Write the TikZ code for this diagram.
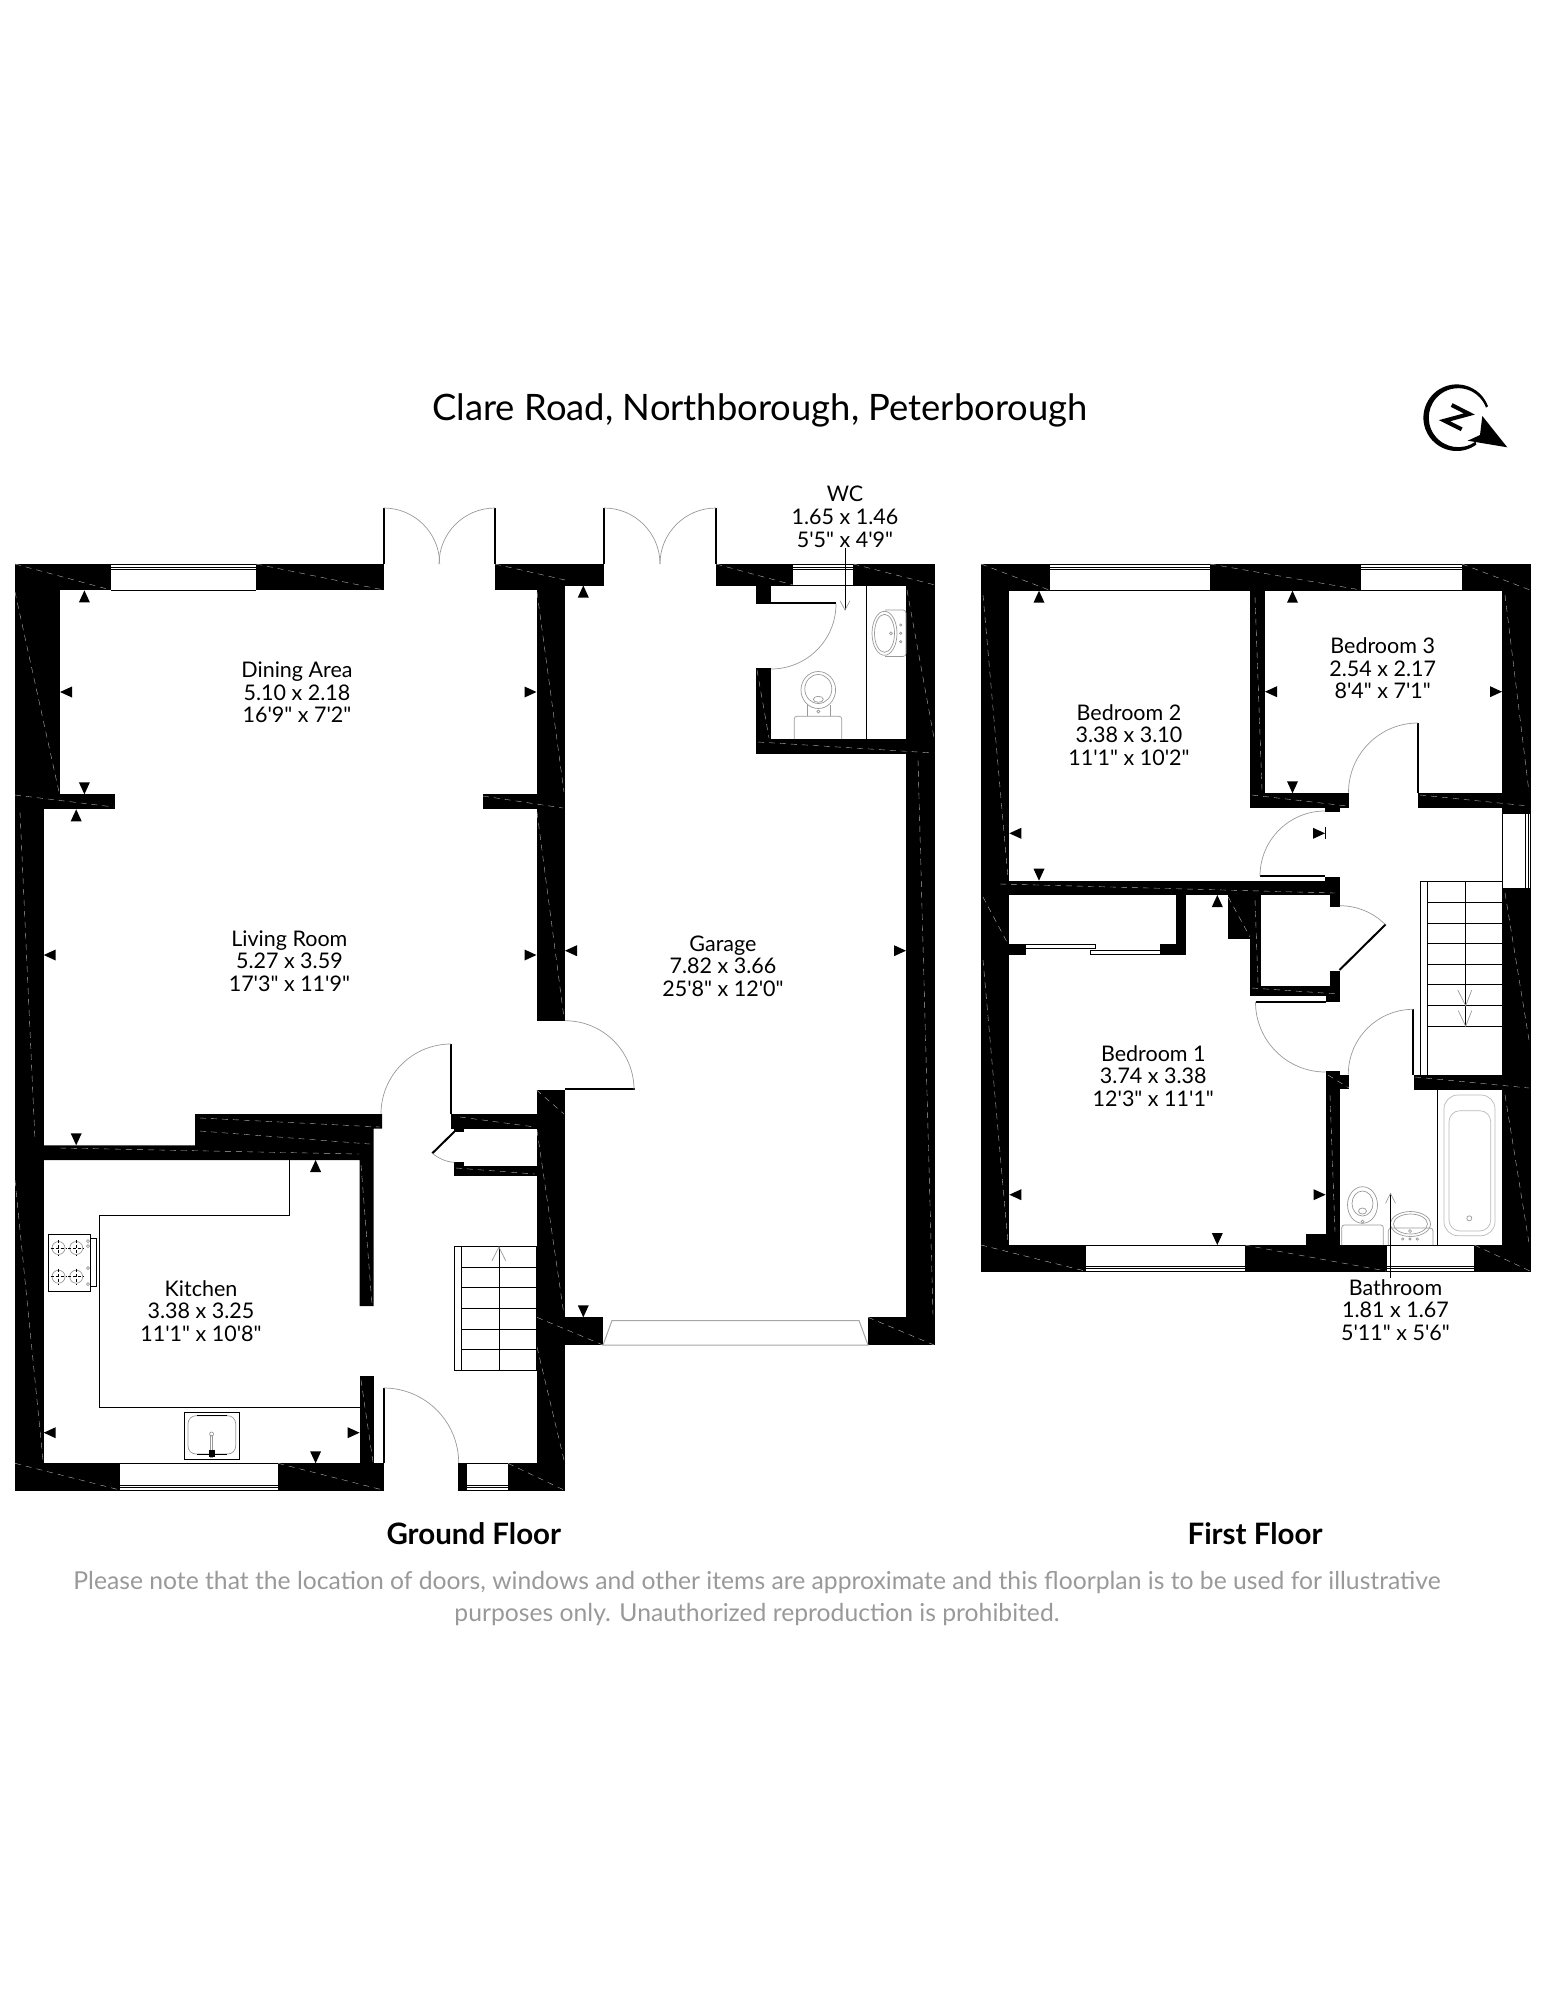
\documentclass[tikz,border=0pt]{standalone}
\usepackage{fontspec}
\newfontfamily\planfont{Lato}
\begin{document}
\begin{tikzpicture}[x=1pt,y=-1pt]
  \tikzstyle{wall} = [fill=black]
  \tikzstyle{trace} = [gray!60, line width=0.4, dash pattern=on 6 off 5]
  \tikzstyle{pane} = [black, line width=0.8]
  \tikzstyle{thinline} = [black, line width=0.9]
  \tikzstyle{leaf} = [black, line width=2]
  \tikzstyle{swing} = [gray!80, line width=0.7]
  \tikzstyle{fitting} = [gray!80, line width=0.7]
  \tikzstyle{room} = [font=\planfont\fontsize{21.5}{22.6}\selectfont, align=center, inner sep=1]
  \tikzstyle{floorname} = [font=\planfont\bfseries\fontsize{29.5}{32}\selectfont, inner sep=0]
  \tikzstyle{tipup} = [insert path={-- ++(5.5,12) -- ++(-11,0) -- cycle}]
  \tikzstyle{tipdown} = [insert path={-- ++(5.5,-12) -- ++(-11,0) -- cycle}]
  \tikzstyle{tipleft} = [insert path={-- ++(12,5.5) -- ++(0,-11) -- cycle}]
  \tikzstyle{tipright} = [insert path={-- ++(-12,5.5) -- ++(0,-11) -- cycle}]

  \useasboundingbox (0,0) rectangle (1545,2000);

  \node (title) [font=\planfont\fontsize{36.4}{40}\selectfont, inner sep=0] at (760,410) {Clare Road, Northborough, Peterborough};

  \fill (1456.7,417.7) ++(-20:33.3) arc[start angle=-20, end angle=-306, radius=33.3] -- ++(-0.7,-3.1) arc[start angle=-306, end angle=-20, radius=29.5] -- cycle;
  \fill (1482.3,416) -- (1507.3,447.3) -- (1467.7,440.7) -- (1480,435) -- cycle;
  \draw [line width=4] (1451.7,405) -- (1469.3,414) -- (1444.5,420.7) -- (1461.7,429.3);

  \fill [wall] (15,564) rectangle (111,590.4);
  \fill [wall] (256,564) rectangle (383.7,590.4);
  \fill [wall] (495,564) rectangle (604,585.5);
  \fill [wall] (495,585) rectangle (565,590.4);
  \fill [wall] (716,564) rectangle (793.3,585.5);
  \fill [wall] (853.3,564) rectangle (935,585.5);
  \fill [wall] (906,585) rectangle (935,1345);
  \fill [wall] (868,1317.3) rectangle (935,1345.3);
  \fill [wall] (15,564) rectangle (59.6,794.3);
  \fill [wall] (15,794.3) rectangle (114.7,809.3);
  \fill [wall] (15,809) rectangle (43.7,1490.7);
  \fill [wall] (483,794.3) rectangle (536.5,809.3);
  \fill [wall] (536.5,590) rectangle (565,1020.7);
  \fill [wall] (536.5,1090) rectangle (565,1490.7);
  \fill [wall] (536.5,1317.3) rectangle (603,1345.3);
  \fill [wall] (43.7,1145.3) -- (195,1145.3) -- (195,1114) -- (382,1114) -- (382,1128.7) -- (373.7,1128.7) -- (373.7,1306) -- (359.6,1306) -- (359.6,1160) -- (43.7,1160) -- cycle;
  \fill [wall] (359.6,1376) rectangle (373.7,1463.3);
  \fill [wall] (15,1463.3) rectangle (120,1490.7);
  \fill [wall] (278,1463.3) rectangle (383.7,1490.7);
  \fill [wall] (458,1463.3) rectangle (467,1490.7);
  \fill [wall] (508,1463.3) rectangle (565,1490.7);
  \fill [wall] (451,1114) rectangle (536.5,1128.7);
  \fill [wall] (454,1128) rectangle (464,1131.7);
  \fill [wall] (454,1165.7) rectangle (536.5,1175.7);
  \fill [wall] (454,1162.3) rectangle (464,1166);
  \fill [wall] (756,585) rectangle (770.7,604);
  \fill [wall] (756,668.3) rectangle (770.7,754);
  \fill [wall] (756,739) rectangle (935,754);

  \fill [wall] (981,564) rectangle (1049.6,590.7);
  \fill [wall] (1210,564) rectangle (1361,590.7);
  \fill [wall] (1462,564) rectangle (1530.7,590.7);
  \fill [wall] (981,590) rectangle (1009.3,1245);
  \fill [wall] (1250.4,590) rectangle (1265,793.3);
  \fill [wall] (1250.4,793.3) rectangle (1349,808.3);
  \fill [wall] (1325,808) rectangle (1339.7,811.7);
  \fill [wall] (1418.4,793.3) rectangle (1530.7,808.3);
  \fill [wall] (1502.3,590) rectangle (1530.7,813.3);
  \fill [wall] (1502.3,888.3) rectangle (1530.7,1245);
  \fill [wall] (981,880.7) rectangle (1339.8,895);
  \fill [wall] (1325,876.7) rectangle (1339.8,881);
  \fill [wall] (1175.8,895) rectangle (1185.6,954.5);
  \fill [wall] (1009.3,944.3) rectangle (1025.6,955);
  \fill [wall] (1160,944.3) rectangle (1185.6,954.7);
  \fill [wall] (1228.2,895) rectangle (1250.4,938.7);
  \fill [wall] (1250.4,895) rectangle (1261,995);
  \fill [wall] (1250.4,986) rectangle (1339.8,995.7);
  \fill [wall] (1325.6,995) rectangle (1339.8,1002);
  \fill [wall] (1330,895) rectangle (1339.8,906.7);
  \fill [wall] (1330,971) rectangle (1339.8,986);
  \fill [wall] (1325.6,1071.3) rectangle (1339.8,1245);
  \fill [wall] (1325.6,1075) rectangle (1349,1089.3);
  \fill [wall] (1413.6,1075) rectangle (1530.7,1090);
  \fill [wall] (1305.6,1234) rectangle (1339.8,1245);
  \fill [wall] (981,1245) rectangle (1085.6,1271.7);
  \fill [wall] (1244.5,1245) rectangle (1386.7,1271.7);
  \fill [wall] (1474.4,1245) rectangle (1530.7,1271.7);

  \draw [trace] (15,564) -- (111,590);
  \draw [trace] (256,564) -- (383.7,590);
  \draw [trace] (495,564) -- (565,580);
  \draw [trace] (716,564) -- (793.3,585);
  \draw [trace] (853.3,564) -- (935,585);
  \draw [trace] (15,592) -- (59,792);
  \draw [trace] (15,795) -- (114,807);
  \draw [trace] (20,812) -- (35,1140);
  \draw [trace] (15,1180) -- (43,1460);
  \draw [trace] (537,592) -- (564,792);
  \draw [trace] (483,796) -- (563,808);
  \draw [trace] (537,812) -- (564,1018);
  \draw [trace] (536.5,1090) -- (564,1114);
  \draw [trace] (537,1130) -- (564,1315);
  \draw [trace] (537,1317.3) -- (603,1345);
  \draw [trace] (537,1347) -- (564,1460);
  \draw [trace] (868,1317.3) -- (934,1345);
  \draw [trace] (918,760) -- (933,1315);
  \draw [trace] (60,1148) -- (359,1154);
  \draw [trace] (200,1118) -- (380,1127);
  \draw [trace] (200,1131) -- (370,1144);
  \draw [trace] (361,1165) -- (372,1304);
  \draw [trace] (361,1380) -- (373,1462);
  \draw [trace] (15,1463.3) -- (120,1490);
  \draw [trace] (278,1463.3) -- (383,1490);
  \draw [trace] (508,1463.3) -- (564,1490);
  \draw [trace] (460,1117) -- (535,1127);
  \draw [trace] (456,1168) -- (535,1174);
  \draw [trace] (758,742) -- (934,753);
  \draw [trace] (757,670) -- (769,738);
  \draw [trace] (907,590) -- (934,738);
  \draw [trace] (981,564) -- (1049,590);
  \draw [trace] (1210,564) -- (1361,590);
  \draw [trace] (1462,564) -- (1530,590);
  \draw [trace] (983,595) -- (1008,878);
  \draw [trace] (983,897) -- (1008,944);
  \draw [trace] (983,960) -- (1008,1243);
  \draw [trace] (1505,595) -- (1529,792);
  \draw [trace] (1505,893) -- (1529,1040);
  \draw [trace] (1505,1095) -- (1529,1243);
  \draw [trace] (1255,597) -- (1262,790);
  \draw [trace] (1252,795) -- (1347,806);
  \draw [trace] (1420,795) -- (1529,806);
  \draw [trace] (1000,884) -- (1335,893);
  \draw [trace] (1228.2,897) -- (1250,937);
  \draw [trace] (1255,900) -- (1258,984);
  \draw [trace] (1252,988) -- (1338,994);
  \draw [trace] (1328,1075) -- (1349,1088);
  \draw [trace] (1330,1095) -- (1335,1232);
  \draw [trace] (1415,1077) -- (1529,1088);
  \draw [trace] (981,1245) -- (1085,1271);
  \draw [trace] (1244.5,1245) -- (1386,1271);
  \draw [trace] (1474.4,1245) -- (1530,1271);

  \draw [pane] (111,590) -- (256,590);
  \draw [pane] (111,564.5) -- (256,564.5);
  \draw [pane] (111,567) -- (256,567);
  \draw [pane] (111,569.5) -- (256,569.5);
  \draw [pane] (793.3,585) -- (853.3,585);
  \draw [pane] (793.3,564.5) -- (853.3,564.5);
  \draw [pane] (793.3,567) -- (853.3,567);
  \draw [pane] (793.3,569.5) -- (853.3,569.5);
  \draw [pane] (120,1463.3) -- (278,1463.3);
  \draw [pane] (120,1485) -- (278,1485);
  \draw [pane] (120,1487.5) -- (278,1487.5);
  \draw [pane] (120,1490.3) -- (278,1490.3);
  \draw [pane] (467,1463.3) -- (508,1463.3);
  \draw [pane] (467,1485) -- (508,1485);
  \draw [pane] (467,1487.5) -- (508,1487.5);
  \draw [pane] (467,1490.3) -- (508,1490.3);
  \draw [pane] (1049.6,590.3) -- (1210,590.3);
  \draw [pane] (1049.6,564.5) -- (1210,564.5);
  \draw [pane] (1049.6,567) -- (1210,567);
  \draw [pane] (1049.6,569.5) -- (1210,569.5);
  \draw [pane] (1361,590.3) -- (1462,590.3);
  \draw [pane] (1361,564.5) -- (1462,564.5);
  \draw [pane] (1361,567) -- (1462,567);
  \draw [pane] (1361,569.5) -- (1462,569.5);
  \draw [pane] (1085.6,1245) -- (1244.5,1245);
  \draw [pane] (1085.6,1266.5) -- (1244.5,1266.5);
  \draw [pane] (1085.6,1268.7) -- (1244.5,1268.7);
  \draw [pane] (1085.6,1271.2) -- (1244.5,1271.2);
  \draw [pane] (1386.7,1245) -- (1474.4,1245);
  \draw [pane] (1386.7,1266.5) -- (1474.4,1266.5);
  \draw [pane] (1386.7,1268.7) -- (1474.4,1268.7);
  \draw [pane] (1386.7,1271.2) -- (1474.4,1271.2);
  \draw [pane] (1502.3,813.3) rectangle (1530.4,888.3);
  \draw [pane] (1525.7,813.3) -- (1525.7,888.3);
  \draw [pane] (1527.9,813.3) -- (1527.9,888.3);
  \draw [pane] (1025.6,944.3) rectangle (1095.5,948.3);
  \draw [pane] (1090.4,950.3) rectangle (1160,954.3);
  \draw [gray!70, line width=1] (603,1345) -- (612,1320.5) -- (859,1320.5) -- (868,1345) -- cycle;

  \draw [leaf] (383.7,564) -- (383.7,508);
  \draw [leaf] (495,564) -- (495,508);
  \draw [leaf] (604,564) -- (604,508);
  \draw [leaf] (716,564) -- (716,508);
  \draw [leaf] (451,1114) -- (451,1044);
  \draw [leaf] (383.7,1463) -- (383.7,1388);
  \draw [leaf] (565,1089) -- (634.7,1089);
  \draw [leaf] (454.3,1131.7) -- (432.3,1153.3);
  \draw [leaf] (770.7,603.3) -- (836,603.3);
  \draw [leaf] (1418,793) -- (1418,723);
  \draw [leaf] (1260,876.3) -- (1325,876.3);
  \draw [leaf] (1339.5,970) -- (1385.7,924.3);
  \draw [leaf] (1255.5,1001.7) -- (1325.6,1001.7);
  \draw [leaf] (1413.3,1075) -- (1413.3,1009.3);

  \draw [swing] (383.7,508) arc[start angle=-90, end angle=0, radius=56];
  \draw [swing] (495,508) arc[start angle=-90, end angle=-180, radius=56];
  \draw [swing] (604,508) arc[start angle=-90, end angle=0, radius=56];
  \draw [swing] (716,508) arc[start angle=-90, end angle=-180, radius=56];
  \draw [swing] (451,1044) arc[start angle=-90, end angle=-180, radius=70];
  \draw [swing] (383.7,1388) arc[start angle=-90, end angle=0, radius=75];
  \draw [swing] (565,1020.7) arc[start angle=-90, end angle=0, radius=69];
  \draw [swing] (432.3,1153.3) .. controls (438,1158) and (446,1162) .. (454.3,1162.3);
  \draw [swing] (836,604) arc[start angle=0, end angle=90, radius=65];
  \draw [swing] (1418,723) arc[start angle=-90, end angle=-180, radius=69.5];
  \draw [swing] (1325,811) arc[start angle=-90, end angle=-180, radius=65];
  \draw [swing] (1339.8,905.7) arc[start angle=-90, end angle=-45, radius=64.5];
  \draw [swing] (1255.5,1002) arc[start angle=180, end angle=90, radius=70];
  \draw [swing] (1413.3,1009.3) arc[start angle=-90, end angle=-180, radius=65];

  \fill (84.4,590.4) [tipup];
  \fill (60,692) [tipleft];
  \fill (536.5,692) [tipright];
  \fill (84.4,794.3) [tipdown];
  \fill (76.2,809.3) [tipup];
  \fill (43.7,955) [tipleft];
  \fill (536.5,955) [tipright];
  \fill (565,950.7) [tipleft];
  \fill (906,950.7) [tipright];
  \fill (583.3,585.5) [tipup];
  \fill (583.3,1317.3) [tipdown];
  \fill (76.2,1145.3) [tipdown];
  \fill (315.6,1160) [tipup];
  \fill (43.7,1432.7) [tipleft];
  \fill (359.6,1432.7) [tipright];
  \fill (315.6,1463.3) [tipdown];
  \fill (1039,590.7) [tipup];
  \fill (1009.3,833.3) [tipleft];
  \fill (1039,880.7) [tipdown];
  \fill (1292.5,590.7) [tipup];
  \fill (1265,691.7) [tipleft];
  \fill (1502,691.7) [tipright];
  \fill (1292.5,793.3) [tipdown];
  \fill (1325,833.3) [tipright];
  \draw [thinline] (1325.5,827) -- (1325.5,839);
  \fill (1217.3,895) [tipup];
  \fill (1009.3,1194.7) [tipleft];
  \fill (1325.6,1194.7) [tipright];
  \fill (1217.3,1245) [tipdown];

  \draw [thinline] (289.3,1160) -- (289.3,1215.3) -- (99.5,1215.3) -- (99.5,1407.3) -- (359.6,1407.3);

  \draw [thinline] (48.5,1234) rectangle (90.6,1291.7);
  \draw [thinline] (90.6,1238.3) rectangle (96,1286.7);
  \draw [fitting] (88,1241) circle (1.5);
  \draw [fitting] (88,1246) circle (1.5);
  \draw [fitting] (88,1268) circle (1.5);
  \draw [fitting] (88,1284) circle (1.5);
  \draw [fitting] (58.5,1248) circle (6.5);
  \draw [fitting] (76.2,1248) circle (6.5);
  \draw [fitting] (58.5,1276.7) circle (6.5);
  \draw [fitting] (76.2,1276.7) circle (6.5);
  \draw [thinline, densely dashed] (50.5,1248) -- (66.5,1248);
  \draw [thinline, densely dashed] (58.5,1240) -- (58.5,1256);
  \draw [thinline, densely dashed] (68.2,1248) -- (84.2,1248);
  \draw [thinline, densely dashed] (76.2,1240) -- (76.2,1256);
  \draw [thinline, densely dashed] (50.5,1276.7) -- (66.5,1276.7);
  \draw [thinline, densely dashed] (58.5,1268.7) -- (58.5,1284.7);
  \draw [thinline, densely dashed] (68.2,1276.7) -- (84.2,1276.7);
  \draw [thinline, densely dashed] (76.2,1268.7) -- (76.2,1284.7);

  \draw [thinline] (184.2,1412.3) rectangle (239.7,1459.3);
  \draw [fitting, rounded corners=8] (188,1415.7) rectangle (235.7,1454);
  \draw [thinline] (197,1415.7) -- (227,1415.7);
  \draw [thinline] (197,1454) -- (227,1454);
  \draw [fitting] (210.5,1435) rectangle (212.7,1457);
  \draw [fitting] (211.6,1434) circle (2);
  \fill (208.5,1450) rectangle (214.5,1457);

  \draw [thinline] (454.3,1246.3) rectangle (536.5,1370.3);
  \draw [thinline] (461.7,1246.3) -- (461.7,1370.3);
  \draw [thinline] (499.5,1246.3) -- (499.5,1370.3);
  \draw [thinline] (461.7,1267.3) -- (536.5,1267.3);
  \draw [thinline] (461.7,1287.3) -- (536.5,1287.3);
  \draw [thinline] (461.7,1308.3) -- (536.5,1308.3);
  \draw [thinline] (461.7,1329.3) -- (536.5,1329.3);
  \draw [thinline] (461.7,1349.3) -- (536.5,1349.3);
  \draw [fitting] (492,1260.7) -- (499,1247) -- (505.7,1260.7);

  \draw [thinline] (866.7,585) -- (866.7,739);
  \draw [fitting] (884.5,633.3) ellipse (12.5 and 22);
  \draw [fitting] (884.5,633.3) ellipse (10 and 19);
  \draw [fitting, rounded corners=3] (885,610) -- (906,610) -- (906,656.5) -- (885,656.5);
  \draw [fitting] (891,633.3) circle (1.5);
  \draw [fitting] (900.7,625) circle (1.2);
  \draw [fitting] (900.7,633.3) circle (1.2);
  \draw [fitting] (900.7,641.7) circle (1.2);
  \draw [fitting] (818.3,690) ellipse (17.3 and 18.5);
  \draw [fitting] (818.3,689) ellipse (13.5 and 14.5);
  \draw [fitting] (818.3,699.3) ellipse (5 and 3);
  \draw [fitting] (818.3,711.5) circle (1.5);
  \draw [fitting] (807,705) -- (807,716);
  \draw [fitting] (830,705) -- (830,716);
  \draw [fitting, rounded corners=2.5] (794.3,739) -- (794.3,716.3) -- (841.7,716.3) -- (841.7,739);

  \draw [thinline] (1420.3,881.3) -- (1420.3,1075);
  \draw [thinline] (1427.3,881.3) -- (1427.3,1075);
  \draw [thinline] (1420.3,881.3) -- (1502.3,881.3);
  \draw [thinline] (1465.7,881.3) -- (1465.7,1026.3);
  \draw [thinline] (1427.3,902.3) -- (1502.3,902.3);
  \draw [thinline] (1427.3,923.3) -- (1502.3,923.3);
  \draw [thinline] (1427.3,943.3) -- (1502.3,943.3);
  \draw [thinline] (1427.3,964.3) -- (1502.3,964.3);
  \draw [thinline] (1427.3,984.3) -- (1502.3,984.3);
  \draw [thinline] (1427.3,1005.7) -- (1502.3,1005.7);
  \draw [thinline] (1427.3,1026.3) -- (1502.3,1026.3);
  \draw [fitting] (1457.7,990) -- (1465.7,1005.7) -- (1471.7,990);
  \draw [fitting] (1458.3,1010.7) -- (1465.7,1026.3) -- (1471.7,1010.7);

  \draw [thinline] (1437.3,1090) -- (1437.3,1245);
  \draw [gray!55, line width=0.7, rounded corners=14] (1444,1095) rectangle (1495,1235.7);
  \draw [gray!55, line width=0.7, rounded corners=11] (1449,1110.7) rectangle (1490.7,1231);
  \draw [fitting] (1469.3,1218.3) circle (2.5);
  \draw [fitting] (1362.5,1205) ellipse (15 and 18.3);
  \draw [fitting] (1362.5,1203.5) ellipse (10.5 and 12.5);
  \draw [fitting] (1362.5,1211) ellipse (4 and 3);
  \draw [fitting] (1362.5,1221.5) circle (1.5);
  \draw [fitting, rounded corners=2.5] (1341.7,1245) -- (1341.7,1225) -- (1383.3,1225) -- (1383.3,1245);
  \draw [fitting] (1410.5,1224) ellipse (20 and 12.5);
  \draw [fitting] (1410.5,1224) ellipse (17 and 10);
  \draw [fitting, rounded corners=3] (1388.3,1245) -- (1388.3,1228) -- (1433,1228) -- (1433,1245);
  \draw [fitting] (1410,1231) circle (1.5);
  \draw [fitting] (1402.7,1239) circle (1.2);
  \draw [fitting] (1410,1239) circle (1.2);
  \draw [fitting] (1417.3,1239) circle (1.2);

  \node (dining) [room] at (297,692.5) {Dining Area\\5.10 x 2.18\\16'9" x 7'2"};
  \node (living) [room] at (289.4,961) {Living Room\\5.27 x 3.59\\17'3" x 11'9"};
  \node (kitchen) [room] at (201,1311) {Kitchen\\3.38 x 3.25\\11'1" x 10'8"};
  \node (garage) [room] at (723,966) {Garage\\7.82 x 3.66\\25'8" x 12'0"};
  \node (wc) [room] at (845,516.7) {WC\\1.65 x 1.46\\5'5" x 4'9"};
  \node (bed2) [room] at (1129,735) {Bedroom 2\\3.38 x 3.10\\11'1" x 10'2"};
  \node (bed3) [room] at (1382.7,668.3) {Bedroom 3\\2.54 x 2.17\\8'4" x 7'1"};
  \node (bed1) [room] at (1153.3,1076) {Bedroom 1\\3.74 x 3.38\\12'3" x 11'1"};
  \node (bathroom) [room] at (1395.5,1310) {Bathroom\\1.81 x 1.67\\5'11" x 5'6"};

  \coordinate (wcmark) at (845,610);
  \coordinate (bathmark) at (1390.5,1193.3);
  \draw [thinline] (wc.south) -- (wcmark);
  \draw [fitting] (840,600.7) -- (wcmark) -- (850,600.7);
  \draw [thinline] (bathmark |- bathroom.north) -- (bathmark);
  \draw [fitting] (1385.5,1203.3) -- (bathmark) -- (1395.5,1203.3);

  \node (ground) [floorname] at (473.8,1534) {Ground Floor};
  \node (first) [floorname] at (1255,1534) {First Floor};
  \node (note) [font=\planfont\fontsize{24.7}{32}\selectfont, text=gray!80, align=center, inner sep=0] at (757,1599) {Please note that the location of doors, windows and other items are approximate and this floorplan is to be used for illustrative\\purposes only. Unauthorized reproduction is prohibited.};
\end{tikzpicture}
\end{document}
